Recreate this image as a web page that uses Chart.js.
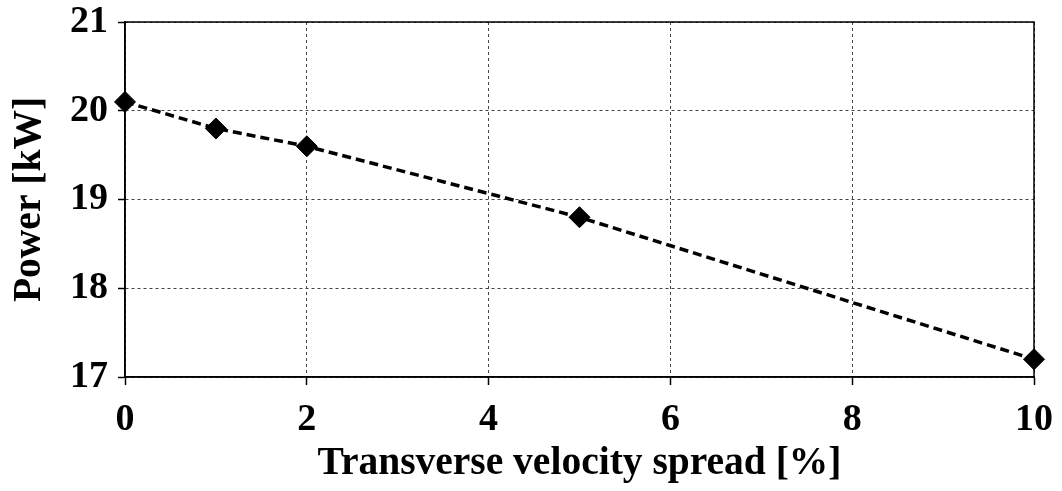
<!DOCTYPE html>
<html>
<head>
<meta charset="utf-8">
<script src="https://cdn.jsdelivr.net/npm/chart.js@4.4.1/dist/chart.umd.min.js"></script>
<style>
html,body{margin:0;padding:0;background:#fff;}
#c{display:block;}
</style>
</head>
<body>
<canvas id="c" width="1062" height="491"></canvas>
<script>
const spread = [0, 1, 2, 5, 10];
const power = [20.1, 19.8, 19.6, 18.8, 17.2];
const xTicks = [0, 2, 4, 6, 8, 10];
const yTicks = [17, 18, 19, 20, 21];
const xTitle = 'Transverse velocity spread [%]';
const yTitle = 'Power [kW]';

const FONT = '"Liberation Serif", "Times New Roman", serif';

const frame = {
  id: 'frame',
  beforeDatasetsDraw(chart) {
    const a = chart.chartArea, ctx = chart.ctx;
    ctx.save();
    ctx.strokeStyle = '#000';
    ctx.lineWidth = 1.5;
    ctx.setLineDash([]);
    ctx.strokeRect(a.left, a.top, a.right - a.left, a.bottom - a.top);
    ctx.restore();
  }
};

new Chart(document.getElementById('c'), {
  type: 'scatter',
  data: {
    datasets: [{
      data: spread.map((x, i) => ({x: x, y: power[i]})),
      showLine: true,
      clip: false,
      borderColor: '#000',
      borderWidth: 3.5,
      borderDash: [9, 5],
      pointStyle: 'rectRot',
      pointRadius: 10.5,
      pointHoverRadius: 10.5,
      pointBackgroundColor: '#000',
      pointBorderColor: '#000',
      pointBorderWidth: 1,
      fill: false
    }]
  },
  options: {
    responsive: false,
    animation: false,
    events: [],
    layout: {padding: {top: 22, right: 28, left: 0, bottom: 0}},
    plugins: {legend: {display: false}, tooltip: {enabled: false}},
    scales: {
      x: {
        type: 'linear',
        min: 0, max: 10,
        afterBuildTicks: s => { s.ticks = xTicks.map(v => ({value: v})); },
        afterFit: s => { s.height = 114; s.paddingLeft = 0; s.paddingRight = 0; },
        ticks: {font: {family: FONT, size: 38, weight: 'bold'}, color: '#000', padding: 12, maxRotation: 0},
        grid: {color: '#444', lineWidth: 1, tickLength: 8, tickColor: '#000', tickBorderDash: [], tickWidth: 1.5},
        border: {display: true, color: '#000', width: 1.5, dash: [3, 3]},
        title: {display: true, text: xTitle, color: '#000', font: {family: FONT, size: 39.5, weight: 'bold'}, padding: {top: 0, bottom: 4}}
      },
      y: {
        type: 'linear',
        min: 17, max: 21,
        afterBuildTicks: s => { s.ticks = yTicks.map(v => ({value: v})); },
        afterFit: s => { s.width = 125; s.paddingTop = 0; s.paddingBottom = 0; },
        ticks: {font: {family: FONT, size: 38, weight: 'bold'}, color: '#000', padding: 10},
        grid: {color: '#444', lineWidth: 1, tickLength: 7, tickColor: '#000', tickBorderDash: [], tickWidth: 1.5},
        border: {display: true, color: '#000', width: 1.5, dash: [3, 3]},
        title: {display: true, text: yTitle, color: '#000', font: {family: FONT, size: 39.5, weight: 'bold'}, padding: {top: 6, bottom: 0}}
      }
    }
  },
  plugins: [frame]
});
</script>
</body>
</html>
